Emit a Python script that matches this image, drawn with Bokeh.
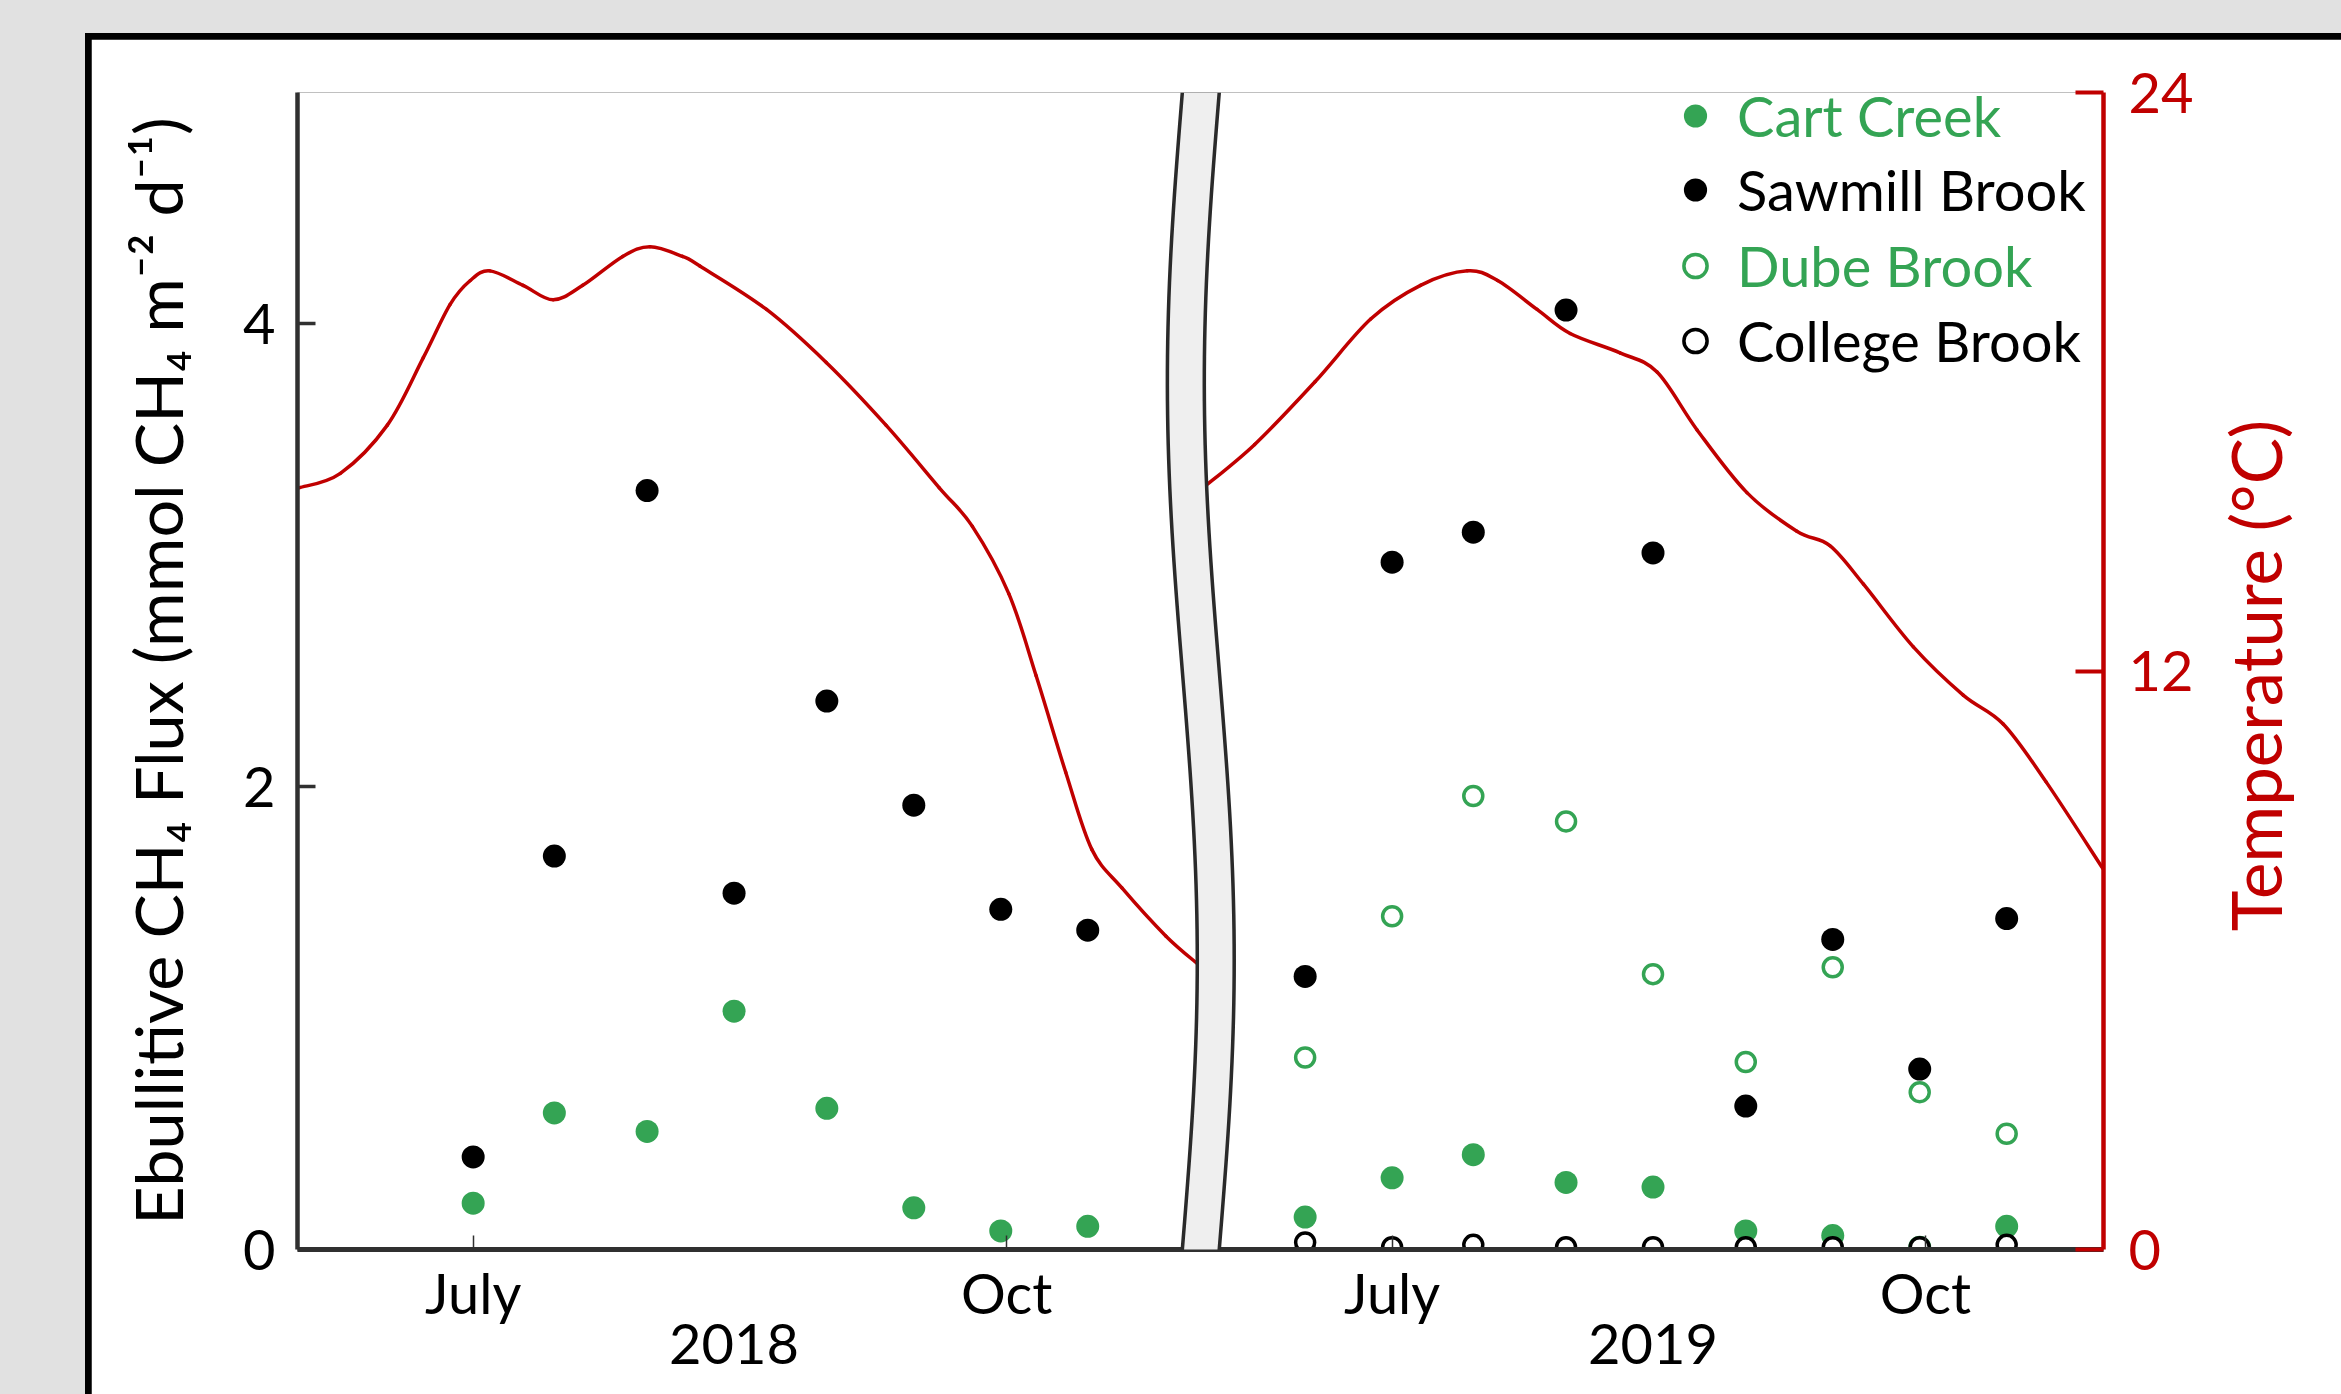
import math
import numpy as np
import pandas as pd
from bokeh.plotting import figure
from bokeh.layouts import column
from bokeh.models import Range1d, LinearAxis, FixedTicker, Legend, LegendItem, PolyAnnotation
from bokeh.embed import file_html
from bokeh.resources import INLINE

# ------------------------------------------------------------------ data
dates_2018 = ["2018-07-01", "2018-07-15", "2018-07-31", "2018-08-15",
              "2018-08-31", "2018-09-15", "2018-09-30", "2018-10-15"]
cart_creek_2018 = [0.20, 0.59, 0.51, 1.03, 0.61, 0.18, 0.08, 0.10]
sawmill_brook_2018 = [0.40, 1.70, 3.28, 1.54, 2.37, 1.92, 1.47, 1.38]

dates_2019 = ["2019-06-16", "2019-07-01", "2019-07-15", "2019-07-31", "2019-08-15",
              "2019-08-31", "2019-09-15", "2019-09-30", "2019-10-15"]
cart_creek_2019 = [0.14, 0.31, 0.41, 0.29, 0.27, 0.08, 0.06, 0.01, 0.10]
sawmill_brook_2019 = [1.18, 2.97, 3.10, 4.06, 3.01, 0.62, 1.34, 0.78, 1.43]
dube_brook_2019 = [0.83, 1.44, 1.96, 1.85, 1.19, 0.81, 1.22, 0.68, 0.50]
college_brook_2019 = [0.03, 0.01, 0.02, 0.01, 0.01, 0.01, 0.01, 0.01, 0.02]

# water temperature (degC), x = days after 1 June of each year
temp_day_2018 = [0, 7.1, 15.2, 21.4, 26.0, 29.5, 32.9, 38.6, 43.8, 48.9, 55.8, 60.5,
                 66.1, 69.1, 80.6, 90.9, 101.2, 110.4, 116.1, 122.4, 127.1,
                 132.2, 136.7, 141.9, 149.5, 155.2]
temp_2018 = [15.8, 16.1, 17.1, 18.5, 19.6, 20.1, 20.3, 20.0, 19.7, 20.0, 20.6, 20.8,
             20.6, 20.4, 19.5, 18.4, 17.1, 15.8, 15.0, 13.6, 11.9,
             9.9, 8.3, 7.5, 6.5, 5.9]
temp_day_2019 = [-2.6, 6.3, 16.7, 26.3, 34.9, 43.0, 48.2, 55.0, 60.7, 69.3, 75.7,
                 82.6, 91.2, 99.8, 105.5, 111.3, 119.9, 128.5, 135.4, 142.8, 152.6]
temp_2019 = [15.8, 16.7, 18.0, 19.3, 20.0, 20.3, 20.1, 19.5, 19.0, 18.6, 18.2,
             17.0, 15.7, 14.9, 14.6, 13.8, 12.5, 11.5, 10.9, 9.7, 7.9]

month_labels = ["July", "Oct"]
month_days = [30, 122]            # days after 1 June
year_labels = ["2018", "2019"]
year_label_day = 75               # 15 Aug
flux_ticks = [0, 2, 4]
temp_ticks = [0, 12, 24]
flux_title = "Ebullitive CH\u2084 Flux (mmol CH\u2084 m\u207b\u00b2 d\u207b\u00b9)"
temp_title = "Temperature (\u00b0C)"

# ------------------------------------------------------------------ layout constants
YEAR_OFFSET = {"2018": 0.0, "2019": 158.5}   # x shift of each year panel
BREAK_X = 155.5
TEMP_TITLE_ANCHOR = 6.6     # where the (bottom-to-top) temperature title starts
GREEN = "#34a454"
RED = "#c00000"
AXIS = "#303030"
FONT = "Lato"


def xpos(dates, year):
    d = (pd.to_datetime(dates) - pd.Timestamp(f"{year}-06-01")).days
    return np.asarray(d, dtype=float) + YEAR_OFFSET[year]


def smooth_segments(xs, ys):
    """Cubic Bezier segments through every point (smoothed line)."""
    P = np.column_stack([xs, ys]).astype(float)
    n = len(P)
    keys = ("x0", "y0", "x1", "y1", "cx0", "cy0", "cx1", "cy1")
    seg = {k: [] for k in keys}
    for i in range(n - 1):
        pm = P[i - 1] if i > 0 else P[i]
        p0, p1 = P[i], P[i + 1]
        p2 = P[i + 2] if i + 2 < n else P[i + 1]
        c0 = p0 + (p1 - pm) / 6.0
        c1 = p1 - (p2 - p0) / 6.0
        for k, v in zip(keys, (p0[0], p0[1], p1[0], p1[1], c0[0], c0[1], c1[0], c1[1])):
            seg[k].append(float(v))
    return seg


x18 = xpos(dates_2018, "2018")
x19 = xpos(dates_2019, "2019")

p = figure(width=2250, height=1355, x_range=Range1d(-0.3, 311.2), y_range=Range1d(0, 5),
           output_backend="svg", toolbar_location=None,
           min_border_left=206, min_border_right=234, min_border_top=53, min_border_bottom=145)
p.border_fill_color = "white"
p.background_fill_color = "white"
p.outline_line_color = None
p.xgrid.visible = False
p.ygrid.visible = False
p.extra_y_ranges = {"temp": Range1d(0, 24)}
p.margin = (6, 0, 0, 6)

# temperature lines (smoothed)
for days, temps, yr in [(temp_day_2018, temp_2018, "2018"), (temp_day_2019, temp_2019, "2019")]:
    seg = smooth_segments(np.array(days) + YEAR_OFFSET[yr], temps)
    p.bezier(**seg, y_range_name="temp", line_color=RED, line_width=3.5, line_cap="round")

# flux points
r_cart = p.scatter(x18, cart_creek_2018, size=23, fill_color=GREEN, line_color=None)
p.scatter(x19, cart_creek_2019, size=23, fill_color=GREEN, line_color=None)
r_saw = p.scatter(x18, sawmill_brook_2018, size=23, fill_color="black", line_color=None)
p.scatter(x19, sawmill_brook_2019, size=23, fill_color="black", line_color=None)
r_dube = p.scatter(x19, dube_brook_2019, size=19, fill_color="white", line_color=GREEN,
                   line_width=3.5)
r_coll = p.scatter(x19, college_brook_2019, size=19, fill_color="white", line_color="black",
                   line_width=3.5)

# axis break
ys = np.linspace(5.0, -0.012, 80)
center = BREAK_X - 2.58 * np.sin(2 * np.pi * (5.0 - ys) / 5.0)
for hw, col in [(3.49, "#2a2a2a"), (2.88, "#efefef")]:
    xs = np.concatenate([center - hw, (center + hw)[::-1]])
    yy = np.concatenate([ys, ys[::-1]])
    p.add_layout(PolyAnnotation(xs=list(xs), ys=list(yy), fill_color=col, fill_alpha=1.0,
                                line_color=None, level="overlay"))

# x axis: month labels with tick marks, year labels on a second line
xa = p.xaxis[0]
major, minor, overrides = [], [], {}
for yr in year_labels:
    for lab, d in zip(month_labels, month_days):
        t = d + YEAR_OFFSET[yr]
        major.append(t)
        minor.append(t)
        overrides[t] = lab
    t = year_label_day + YEAR_OFFSET[yr]
    major.append(t)
    overrides[t] = "\n" + yr
xa.ticker = FixedTicker(ticks=sorted(major), minor_ticks=minor)
xa.major_label_overrides = overrides
xa.axis_line_color = AXIS
xa.axis_line_width = 5
xa.major_tick_line_color = None
xa.major_tick_in = 0
xa.major_tick_out = 0
xa.minor_tick_in = 14
xa.minor_tick_out = 0
xa.minor_tick_line_color = AXIS
xa.minor_tick_line_width = 1.5
xa.major_label_standoff = 9
xa.major_label_text_font = FONT
xa.major_label_text_font_size = "56px"
xa.major_label_text_line_height = 0.75
xa.major_label_text_color = "black"

# left axis
ya = p.yaxis[0]
ya.ticker = FixedTicker(ticks=flux_ticks)
ya.axis_line_color = AXIS
ya.axis_line_width = 4.5
ya.major_tick_in = 18
ya.major_tick_out = 0
ya.major_tick_line_color = AXIS
ya.major_tick_line_width = 3.5
ya.minor_tick_line_color = None
ya.major_label_standoff = 22
ya.major_label_text_font = FONT
ya.major_label_text_font_size = "56px"
ya.major_label_text_color = "black"
ya.axis_label = flux_title
ya.axis_label_text_font = FONT
ya.axis_label_text_font_size = "66.5px"
ya.axis_label_text_font_style = "normal"
ya.axis_label_text_color = "black"
ya.axis_label_standoff = 43

# right axis (temperature)
ra = LinearAxis(y_range_name="temp", ticker=FixedTicker(ticks=temp_ticks))
ra.axis_line_color = RED
ra.axis_line_width = 4.5
ra.major_tick_in = 28
ra.major_tick_out = 0
ra.major_tick_line_color = RED
ra.major_tick_line_width = 4
ra.minor_tick_line_color = None
ra.major_label_standoff = 25
ra.major_label_text_font = FONT
ra.major_label_text_font_size = "56px"
ra.major_label_text_color = RED
p.add_layout(ra, "right")

# temperature title, reading bottom-to-top
rt = LinearAxis(y_range_name="temp", ticker=FixedTicker(ticks=[TEMP_TITLE_ANCHOR]),
                major_label_overrides={TEMP_TITLE_ANCHOR: temp_title})
rt.axis_line_color = None
rt.major_tick_line_color = None
rt.minor_tick_line_color = None
rt.major_tick_in = 0
rt.major_tick_out = 0
rt.major_label_orientation = math.pi / 2
rt.major_label_standoff = 59
rt.major_label_text_font = FONT
rt.major_label_text_font_size = "69px"
rt.major_label_text_color = RED
p.add_layout(rt, "right")

# legend: one Legend per entry so each label keeps its own colour
legend_rows = [("Cart Creek", r_cart, GREEN, 1096),
               ("Sawmill Brook", r_saw, "black", 1022),
               ("Dube Brook", r_dube, GREEN, 946),
               ("College Brook", r_coll, "black", 871)]
for lab, rend, col, vy in legend_rows:
    lg = Legend(items=[LegendItem(label=lab, renderers=[rend])], location=(1369, vy),
                glyph_width=58, glyph_height=75, label_standoff=13, padding=0, margin=0,
                spacing=0, border_line_color=None, background_fill_alpha=0,
                label_text_font=FONT, label_text_font_size="56px", label_text_color=col)
    p.add_layout(lg)

# white panel with black top/left frame on a grey page
panel = column(p, margin=(33, 0, 0, 85), styles={"background-color": "black"})
page = column(panel, width=2341, height=1394, styles={"background-color": "#e1e1e1"})

open("out.html", "w").write(file_html(page, INLINE))
